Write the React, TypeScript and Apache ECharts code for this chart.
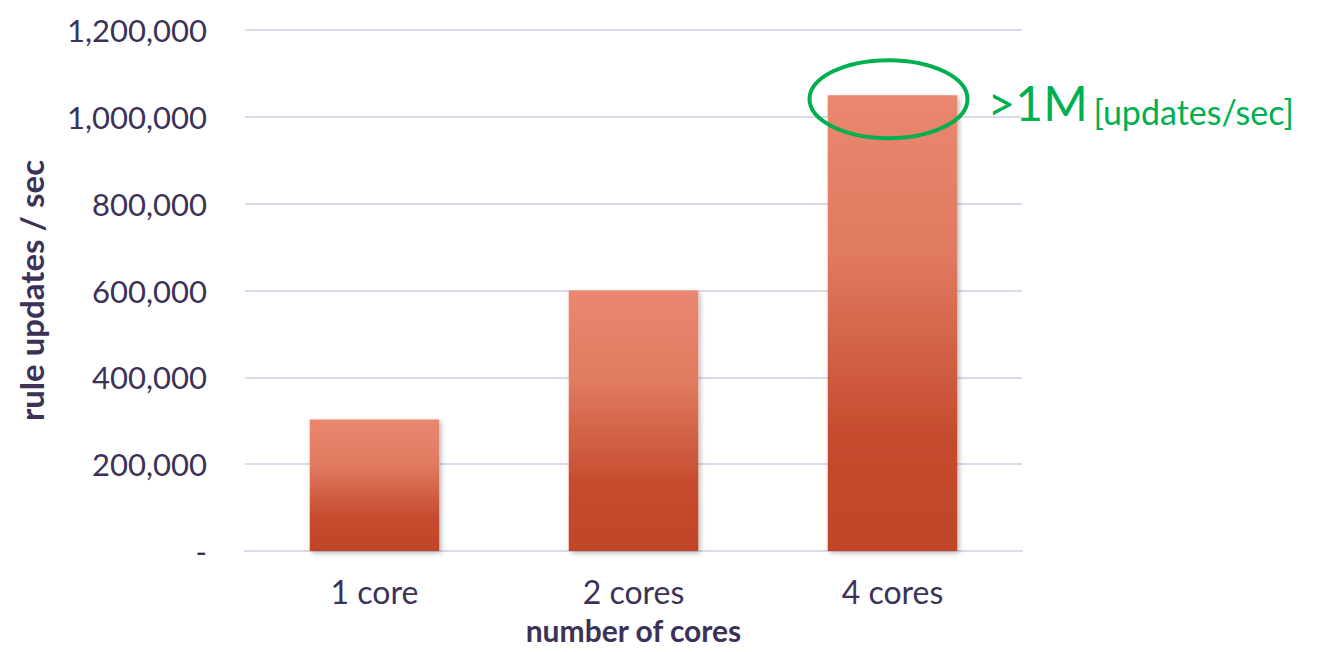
import React, { useEffect, useRef } from "react";
import * as echarts from "echarts";

// Throughput per core count
const categories = ["1 core", "2 cores", "4 cores"];
const updatesPerSec = [303000, 600000, 1050000];
const yTicks = { min: 0, max: 1200000, interval: 200000 };
const calloutBig = ">1M";
const calloutSmall = "[updates/sec]";
const highlightIndex = 2;

const INK = "#3C3257";
const GRID = "#DCDAEA";
const GREEN = "#00B050";
const FONT = "Lato, 'Noto Sans', sans-serif";

function formatTick(v: number): string {
  if (v === 0) return "-";
  return v.toLocaleString("en-US");
}

export default function App() {
  const ref = useRef<HTMLDivElement>(null);

  useEffect(() => {
    if (!ref.current) return;
    const chart = echarts.init(ref.current, undefined, { renderer: "svg" });

    chart.setOption({
      animation: false,
      textStyle: { fontFamily: FONT },
      grid: { left: 245, right: 310, top: 30, bottom: 101, outerBoundsMode: "none", containLabel: false },
      xAxis: {
        type: "category",
        data: categories,
        axisLine: { show: true, lineStyle: { color: GRID, width: 2 } },
        axisTick: { show: false },
        axisLabel: { color: INK, fontSize: 32, fontFamily: FONT, margin: 24 },
        name: "number of cores",
        nameLocation: "middle",
        nameGap: 64,
        nameTextStyle: {
          color: INK,
          fontSize: 30,
          lineHeight: 30,
          fontWeight: "bold",
          fontFamily: FONT,
        },
      },
      yAxis: {
        type: "value",
        min: yTicks.min,
        max: yTicks.max,
        interval: yTicks.interval,
        axisLine: { show: false },
        axisTick: { show: false },
        splitLine: { lineStyle: { color: GRID, width: 2 } },
        axisLabel: {
          color: INK,
          fontSize: 31,
          fontFamily: FONT,
          margin: 38,
          formatter: formatTick,
        },
        name: "rule updates / sec",
        nameLocation: "middle",
        nameGap: 198,
        nameTextStyle: { color: INK, fontSize: 33, fontWeight: "bold", fontFamily: FONT },
      },
      series: [
        {
          type: "bar",
          data: updatesPerSec,
          barWidth: "50%",
          itemStyle: {
            color: new echarts.graphic.LinearGradient(0, 0, 0, 1, [
              { offset: 0, color: "#E9876F" },
              { offset: 0.35, color: "#E07A60" },
              { offset: 0.75, color: "#C54B2E" },
              { offset: 1, color: "#C04528" },
            ]),
            shadowColor: "rgba(0,0,0,0.28)",
            shadowBlur: 5,
            shadowOffsetX: 2,
            shadowOffsetY: 2,
          },
        },
      ],
    });

    // Callout ellipse around the top of the highlighted bar
    const top = chart.convertToPixel({ xAxisIndex: 0, yAxisIndex: 0 }, [
      highlightIndex,
      updatesPerSec[highlightIndex],
    ]) as number[];
    const cx = top[0] - 4;
    const cy = top[1] + 4;
    const rx = 79;
    const ry = 39;

    chart.setOption({
      graphic: [
        {
          type: "ellipse",
          shape: { cx, cy, rx, ry },
          style: { fill: "none", stroke: GREEN, lineWidth: 4 },
          z: 100,
        },
        {
          type: "text",
          x: cx + rx + 20,
          y: cy + 27,
          style: {
            text: calloutBig,
            fill: GREEN,
            fontSize: 48,
            fontFamily: FONT,
            textVerticalAlign: "bottom",
          },
          z: 100,
        },
        {
          type: "text",
          x: cx + rx + 126,
          y: cy + 29,
          style: {
            text: calloutSmall,
            fill: GREEN,
            fontSize: 34,
            fontFamily: FONT,
            textVerticalAlign: "bottom",
          },
          z: 100,
        },
      ],
    });

    return () => chart.dispose();
  }, []);

  return (
    <div
      ref={ref}
      style={{ position: "absolute", left: 0, top: 0, width: 1332, height: 652, background: "#fff" }}
    />
  );
}
